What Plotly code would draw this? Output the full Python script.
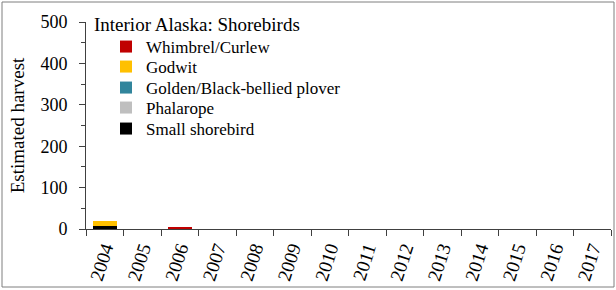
import plotly.graph_objects as go

years = [str(y) for y in range(2004, 2018)]
small_shorebird = [7, 0, 0, 0, 0, 0, 0, 0, 0, 0, 0, 0, 0, 0]
phalarope = [0, 0, 0, 0, 0, 0, 0, 0, 0, 0, 0, 0, 0, 0]
golden_plover = [0, 0, 0, 0, 0, 0, 0, 0, 0, 0, 0, 0, 0, 0]
godwit = [12, 0, 0, 0, 0, 0, 0, 0, 0, 0, 0, 0, 0, 0]
whimbrel = [0, 0, 5, 0, 0, 0, 0, 0, 0, 0, 0, 0, 0, 0]

series_names = ["Small shorebird", "Phalarope", "Golden/Black-bellied plover", "Godwit", "Whimbrel/Curlew"]
series_values = [small_shorebird, phalarope, golden_plover, godwit, whimbrel]
series_colors = ["#000000", "#BFBFBF", "#31859C", "#FFC000", "#C00000"]

FONT = "Liberation Serif"
L, R, T, B = 86, 611, 22, 229
W, H = 616, 290
pw, ph = R - L, B - T

def px(x):
    return (x - L) / pw

def py(y):
    return (B - y) / ph

# legend entry centre rows (pixels), top entry first
legend_rows = {"Whimbrel/Curlew": 47, "Godwit": 67, "Golden/Black-bellied plover": 88,
               "Phalarope": 108, "Small shorebird": 129}

fig = go.Figure()
legend_layout = {}
for i, (name, vals, col) in enumerate(zip(series_names, series_values, series_colors)):
    lname = "legend" if i == 0 else f"legend{i + 1}"
    fig.add_trace(go.Bar(x=years, y=vals, name=name, legend=lname,
                         marker=dict(color=col, line=dict(width=0))))
    legend_layout[lname] = dict(
        x=px(106), y=py(legend_rows[name]), xanchor="left", yanchor="middle",
        bgcolor="rgba(0,0,0,0)", borderwidth=0,
        font=dict(family=FONT, size=17, color="black"), itemwidth=30,
    )

fig.update_layout(
    width=W, height=H,
    margin=dict(l=L, r=W - R, t=T, b=H - B, pad=0, autoexpand=False),
    barmode="stack", bargap=0.36,
    plot_bgcolor="white", paper_bgcolor="white",
    font=dict(family=FONT, size=17, color="black"),
    showlegend=True,
    xaxis=dict(
        type="category", tickson="boundaries", ticks="outside", ticklen=6,
        tickcolor="#404040", showline=True, linecolor="#404040", linewidth=1,
        tickangle=-72, tickfont=dict(family=FONT, size=19), showgrid=False,
        range=[-0.5, 13.5], automargin=False,
    ),
    yaxis=dict(
        range=[0, 500], dtick=100, ticks="outside", ticklen=6, tickcolor="#404040",
        showline=True, linecolor="#404040", linewidth=1, showgrid=False, zeroline=False,
        tickfont=dict(family=FONT, size=18), ticklabelstandoff=8, automargin=False,
        minor=dict(dtick=50, ticks="outside", ticklen=4, tickcolor="#404040"),
        title=dict(text="Estimated harvest", font=dict(family=FONT, size=19), standoff=10),
    ),
    annotations=[dict(
        text="Interior Alaska: Shorebirds", xref="paper", yref="paper",
        x=px(92), y=py(25), xanchor="left", yanchor="middle", showarrow=False,
        font=dict(family=FONT, size=19, color="black"),
    )],
    shapes=[dict(
        type="rect", xref="paper", yref="paper",
        x0=px(2), x1=px(614), y0=py(287), y1=py(2),
        line=dict(color="#7F7F7F", width=1), layer="below",
    )],
)
fig.update_layout(**legend_layout)

fig.write_html("out.html", config={"displayModeBar": False},
               post_script="document.body.style.margin='0';")
